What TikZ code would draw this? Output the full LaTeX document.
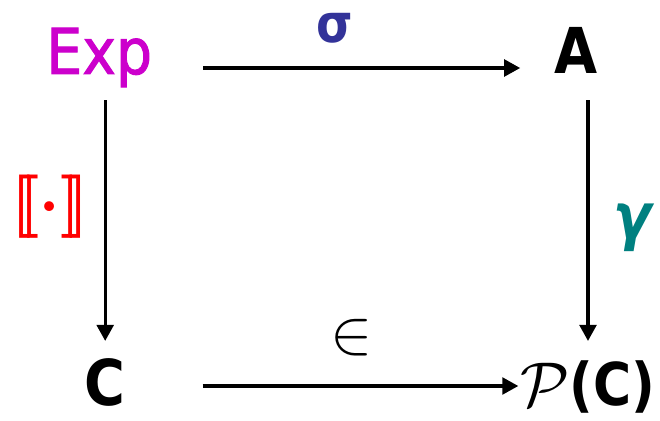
\documentclass[tikz,border=0pt]{standalone}
\usepackage{graphicx}
\usepackage{fontspec}
\setmainfont{DejaVu Sans}[FakeStretch=0.88]
\newfontfamily\expfont{DejaVu Sans}[FakeStretch=0.9, FakeBold=1.5]
\usetikzlibrary{arrows.meta}
\definecolor{expmag}{HTML}{CC00CC}
\definecolor{sigblue}{HTML}{333399}
\definecolor{gamteal}{HTML}{008080}
\newcommand{\bigmath}[1]{\scalebox{4.5}{\normalsize#1}}

\begin{document}
\begin{tikzpicture}[
  obj/.style={inner sep=0pt, anchor=base, font=\fontsize{45}{54}\selectfont\bfseries, text height=0.6cm, text depth=0.3cm},
  lowobj/.style={obj, text height=1.0cm, text depth=0cm},
  lbl/.style={inner sep=0pt, font=\fontsize{45}{54}\selectfont\bfseries},
  arr/.style={-{Triangle[length=0.4cm,width=0.42cm]}, line width=2.2pt}
]
  \useasboundingbox (0,0) rectangle (16.5,10.5);

  % corners of the square
  \node[obj, text=expmag, font=\fontsize{45}{54}\selectfont\expfont] (exp) at (2.48,8.65) {Exp};
  \node[obj] (a) at (14.4,8.65) {A};
  \node[lowobj] (c) at (2.63,0.35) {C};
  \node[lowobj, font=\fontsize{42}{50}\selectfont\bfseries] (pc) at (14.7,0.35) {\bigmath{$\mathcal{P}$}(C)};

  % maps
  \draw[arr, shorten <=1.27cm, shorten >=0.85cm] (exp.east) -- (a.west);
  \draw[arr, shorten <=1.92cm, shorten >=0.05cm] (c.east) -- (pc.west);
  \draw[arr, shorten <=0.35cm, shorten >=0.62cm] (exp.south -| c.north) -- (c.north);
  \draw[arr, shorten <=0.35cm, shorten >=0.62cm] (a.south -| pc.north) -- (pc.north);

  % labels
  \node[lbl, anchor=base, text=sigblue, font=\fontsize{38}{46}\selectfont\bfseries] (sigma) at (8.375,9.425) {σ};
  \node[lbl, text=gamteal] (gamma) at (15.8,4.8) {\itshape γ};
  \node[lbl, text=red] (sem) at (1.25,5.325) {\bigmath{\boldmath$[\![\cdot]\!]$}};
  \node[lbl] (elem) at (8.8,2.05) {\bigmath{$\in$}};
\end{tikzpicture}
\end{document}
